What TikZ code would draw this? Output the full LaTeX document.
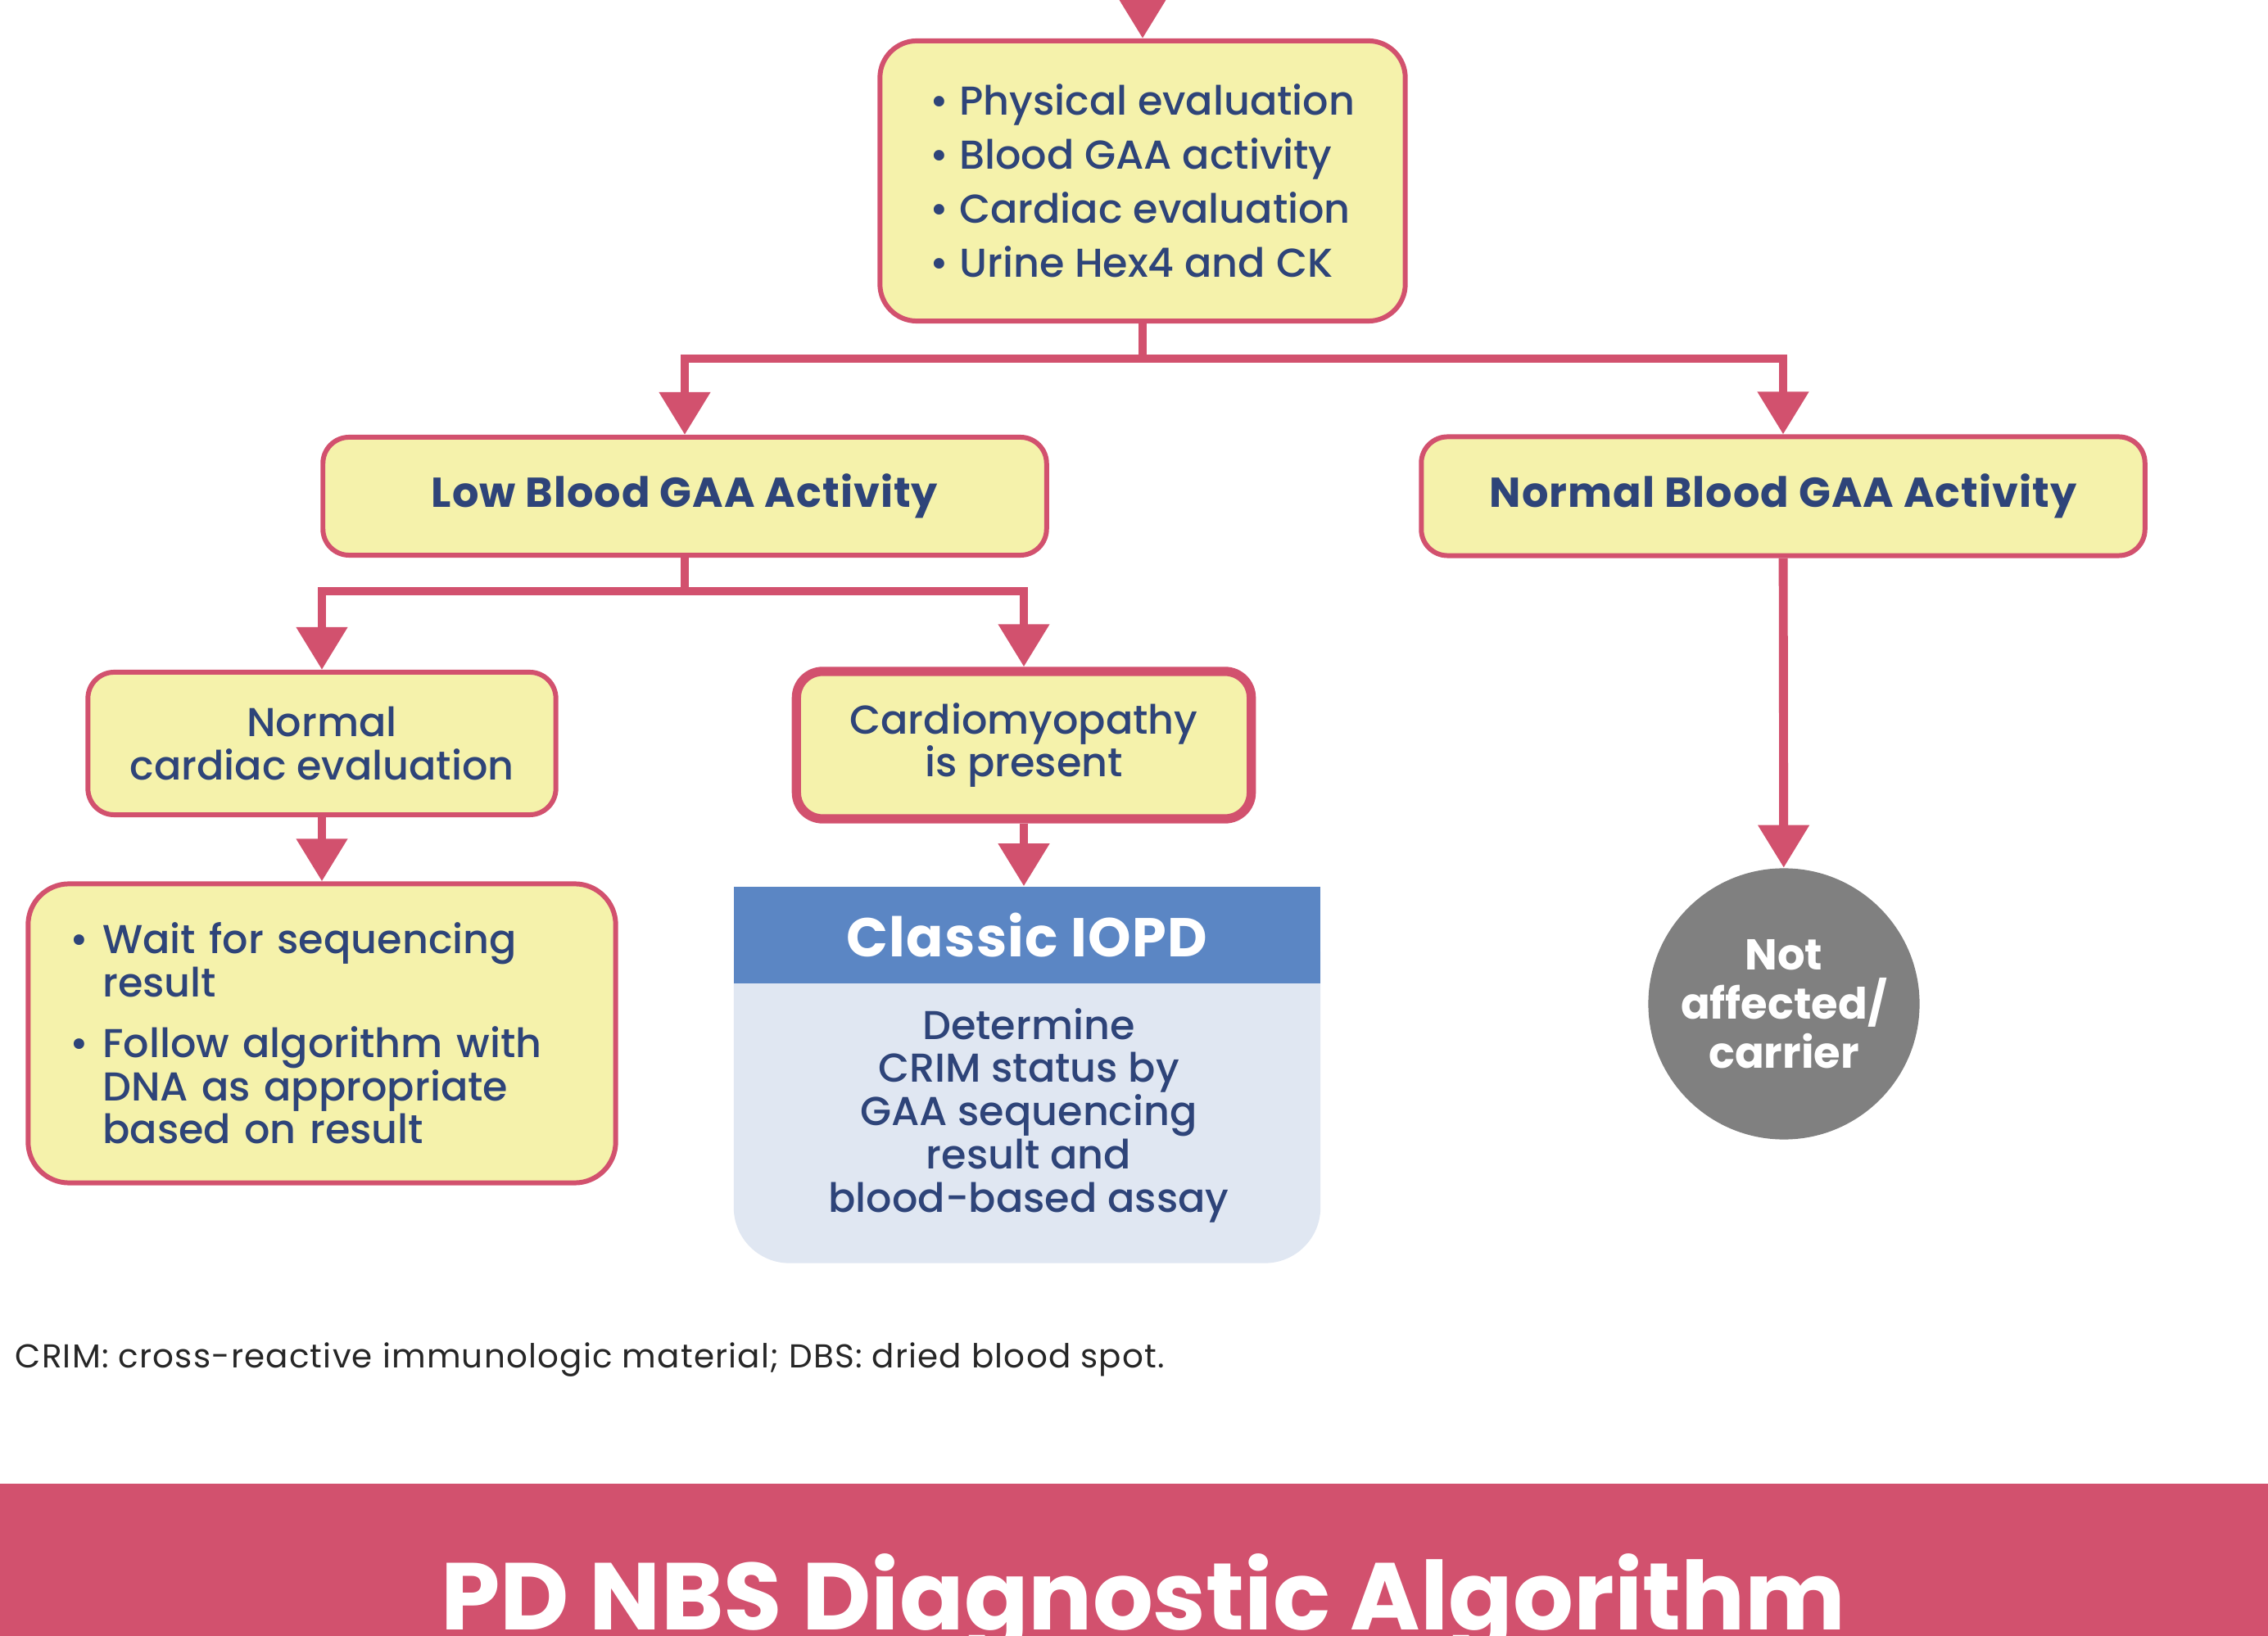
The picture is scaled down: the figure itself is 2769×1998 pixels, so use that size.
\documentclass[tikz,border=0pt]{standalone}
\usepackage{fontspec}
\setmainfont{Poppins}
\newfontfamily\medfont{Poppins Medium}
\newfontfamily\headfont{Poppins}[LetterSpace=2]
\newfontfamily\notefont{Poppins}[LetterSpace=3]
\usetikzlibrary{arrows.meta,positioning,shapes}

\definecolor{nbsred}{HTML}{D2516E}
\definecolor{nbsyellow}{HTML}{F5F2AB}
\definecolor{nbsnavy}{HTML}{2E4479}
\definecolor{nbsblue}{HTML}{5B86C4}
\definecolor{nbslight}{HTML}{E0E7F2}
\definecolor{nbsgrey}{HTML}{808080}

\newcommand{\nbsitem}{\makebox[0.4cm][l]{•}}
\newcommand{\nbsindent}{\hspace*{0.4cm}}

\begin{document}
\begin{tikzpicture}[x=0.01cm, y=-0.01cm,
  box/.style={draw=nbsred, fill=nbsyellow, line width=1.7pt, rounded corners=0.32cm,
    text=nbsnavy, align=center, inner sep=0pt, font=\medfont\fontsize{14}{15}\selectfont},
  head/.style={box, font=\headfont\bfseries\fontsize{14.5}{15}\selectfont},
  conn/.style={draw=nbsred, line width=3.1pt, -{Triangle[length=0.52cm,width=0.6cm]}}]

  \useasboundingbox (0,0) rectangle (2769,1998);
  \fill[white] (0,0) rectangle (2769,1998);

  \node (tests) [box, rounded corners=0.45cm, minimum width=6.41cm, minimum height=3.42cm,
    align=left, font=\medfont\fontsize{14}{18.8}\selectfont] at (1395,221)
    {• Physical evaluation\\• Blood GAA activity\\• Cardiac evaluation\\• Urine Hex4 and CK};
  \coordinate (entry) at (1395,-60);

  \node (low) [head, minimum width=8.83cm, minimum height=1.44cm] at (836,606) {Low Blood GAA Activity};
  \node (normal) [head, minimum width=8.83cm, minimum height=1.45cm] at (2177,606) {Normal Blood GAA Activity};

  \node (normcard) [box, minimum width=5.71cm, minimum height=1.74cm] at (393,908) {Normal\\cardiac evaluation};
  \node (cardio) [box, line width=3.2pt, minimum width=5.55cm, minimum height=1.8cm] at (1250,910) {Cardiomyopathy\\is present};

  \node (wait) [box, rounded corners=0.5cm, minimum width=7.17cm, minimum height=3.65cm, text width=6.15cm, align=left] at (393,1262)
    {\nbsitem Wait for sequencing\\\nbsindent result\\[6pt]\nbsitem Follow algorithm with\\\nbsindent DNA as appropriate\\\nbsindent based on result};

  % Classic IOPD panel
  \node (iopd) [fill=nbslight, rounded corners=0.68cm, minimum width=7.16cm, minimum height=4.43cm, inner sep=0pt] at (1254,1321) {};
  \node (iopdhead) [fill=nbsblue, minimum width=7.16cm, minimum height=1.18cm, inner sep=0pt, text=white,
    font=\headfont\bfseries\fontsize{19}{20}\selectfont] at (1254,1142) {Classic IOPD};
  \node (iopdtext) [text=nbsnavy, align=center, font=\medfont\fontsize{14}{15}\selectfont] at (1256,1362)
    {Determine\\CRIM status by\\GAA sequencing\\result and\\blood-based assay};

  \node (carrier) [circle, fill=nbsgrey, minimum size=3.31cm, inner sep=0pt, text=white, align=center,
    font=\bfseries\fontsize{15}{17}\selectfont] at (2178,1226) {Not\\affected/\\carrier};

  \coordinate (split1) at (1395,438);
  \coordinate (split2) at (836,722);
  \draw[conn] (entry) -- (tests);
  \draw[conn] (tests) -- (split1) -| (low);
  \draw[conn] (split1) -| (normal);
  \draw[conn] (low) -- (split2) -| (normcard);
  \draw[conn] (split2) -| (cardio);
  \draw[conn] (normcard) -- (wait);
  \draw[conn] (cardio) -- (cardio.south |- iopdhead.north);
  \draw[conn] (normal) -- (carrier);

  \node (note) [anchor=base west, inner sep=0pt, text=black!85, font=\notefont\fontsize{11.5}{12}\selectfont] at (18,1670)
    {CRIM: cross-reactive immunologic material; DBS: dried blood spot.};

  % title banner
  \fill[nbsred] (0,1812) rectangle (2769,2100);
  \node (title) [anchor=base, inner sep=0pt, text=white, font=\bfseries\fontsize{33}{33}\selectfont] at (1396,1990)
    {PD NBS Diagnostic Algorithm};

\end{tikzpicture}
\end{document}
